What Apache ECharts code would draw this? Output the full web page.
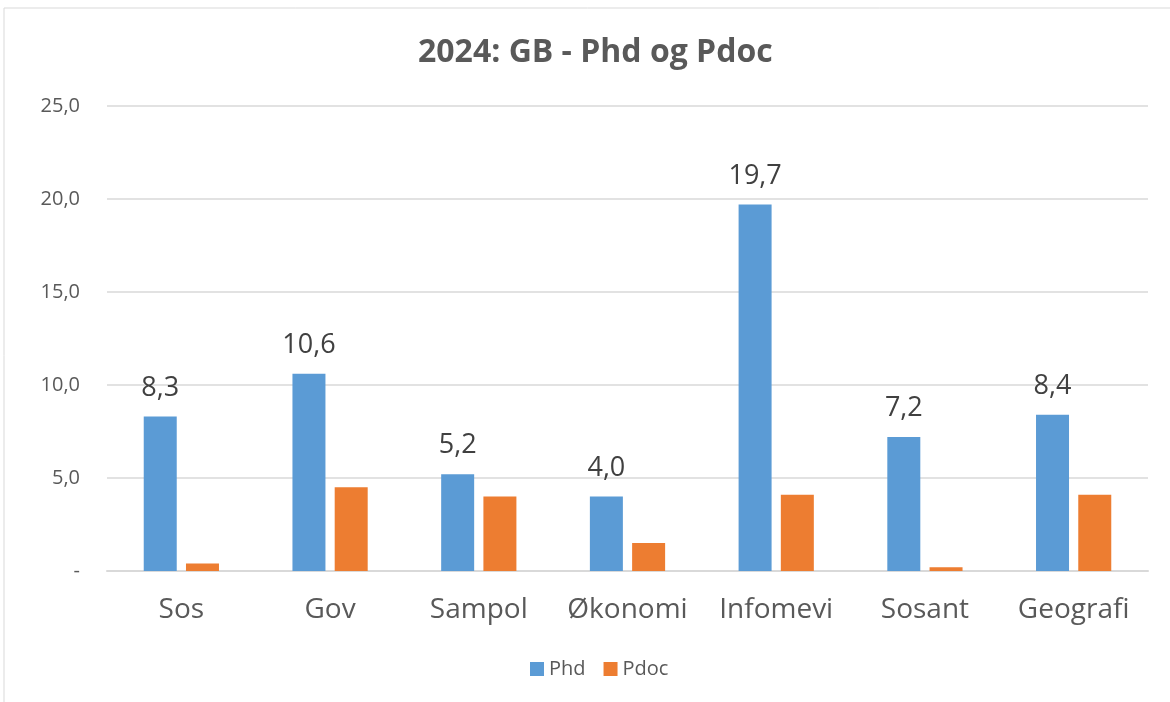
<!DOCTYPE html>
<html>
<head>
<meta charset="utf-8">
<script src="https://cdn.jsdelivr.net/npm/echarts@6/dist/echarts.min.js"></script>
<style>
html,body{margin:0;padding:0;background:#fff;}
#c{width:1170px;height:702px;}
</style>
</head>
<body>
<div id="c"></div>
<script>
const categories = ['Sos', 'Gov', 'Sampol', 'Økonomi', 'Infomevi', 'Sosant', 'Geografi'];
const phd = [8.3, 10.6, 5.2, 4.0, 19.7, 7.2, 8.4];
const pdoc = [0.4, 4.5, 4.0, 1.5, 4.1, 0.2, 4.1];
const seriesNames = ['Phd', 'Pdoc'];
const titleText = '2024: GB - Phd og Pdoc';

const fmt = v => v === 0 ? '-' : v.toFixed(1).replace('.', ',');
const FONT = '"Open Sans", sans-serif';

const chart = echarts.init(document.getElementById('c'), null, {renderer: 'canvas'});
chart.setOption({
  backgroundColor: '#ffffff',
  animation: false,
  textStyle: {fontFamily: FONT},
  graphic: [{
    type: 'rect',
    shape: {x: 4, y: 8, width: 1200, height: 720},
    style: {fill: 'none', stroke: '#d9d9d9', lineWidth: 1},
    silent: true, z: -1
  }],
  title: {
    text: titleText,
    left: 413,
    top: 32,
    textStyle: {fontFamily: FONT, fontSize: 32, fontWeight: 'bold', color: '#595959'}
  },
  legend: {
    data: seriesNames,
    bottom: 18,
    left: 525,
    itemWidth: 14,
    itemHeight: 14,
    itemGap: 18,
    icon: 'rect',
    textStyle: {fontFamily: FONT, fontSize: 20, color: '#595959'}
  },
  grid: {left: 107, right: 22, top: 106, bottom: 131, containLabel: false},
  xAxis: {
    type: 'category',
    data: categories,
    axisTick: {show: false},
    axisLine: {lineStyle: {color: '#d9d9d9', width: 2}},
    axisLabel: {interval: 0, fontFamily: FONT, fontSize: 28, color: '#595959', margin: 25}
  },
  yAxis: {
    type: 'value',
    min: 0, max: 25, interval: 5,
    axisLine: {show: false},
    axisTick: {show: false},
    splitLine: {lineStyle: {color: '#d9d9d9', width: 1.5}},
    axisLabel: {fontFamily: FONT, fontSize: 20, color: '#595959', margin: 27, formatter: fmt}
  },
  series: [
    {
      name: seriesNames[0], type: 'bar', data: phd,
      barWidth: 33, barGap: '28%',
      itemStyle: {color: '#5b9bd5'},
      label: {show: true, position: 'top', distance: 15, fontFamily: FONT, fontSize: 27, color: '#404040', formatter: p => fmt(p.value)}
    },
    {
      name: seriesNames[1], type: 'bar', data: pdoc,
      barWidth: 33,
      itemStyle: {color: '#ed7d31'}
    }
  ]
});
</script>
</body>
</html>
